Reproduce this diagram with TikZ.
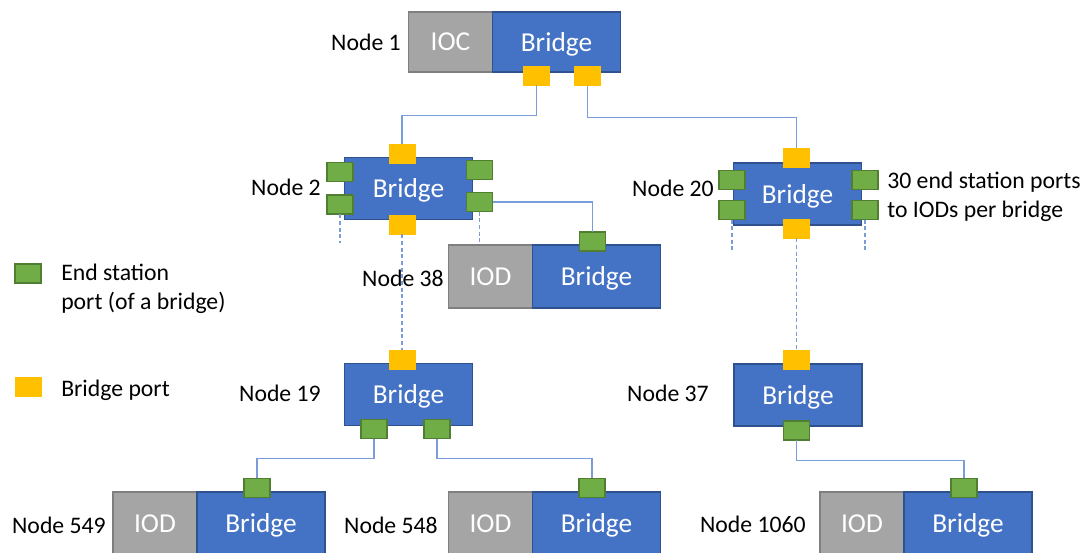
\documentclass[tikz,border=0pt]{standalone}
\usepackage{fontspec}
\setmainfont{Carlito}
\usetikzlibrary{positioning,calc}
\definecolor{brfill}{HTML}{4472C4}
\definecolor{brline}{HTML}{2F528F}
\definecolor{iodfill}{HTML}{A5A5A5}
\definecolor{iodline}{HTML}{7F7F7F}
\definecolor{epfill}{HTML}{70AD47}
\definecolor{epline}{HTML}{507E32}
\definecolor{bpfill}{HTML}{FFC000}
\definecolor{wireblue}{HTML}{7A9CD8}

\begin{document}
\begin{tikzpicture}[x=0.75pt,y=-0.75pt,font=\fontsize{17.8}{22}\selectfont]
\tikzstyle{bridge}=[draw=brline,fill=brfill,line width=1pt,text=white,minimum width=96pt,minimum height=46.5pt,inner sep=0pt,outer sep=0pt,text depth=0pt,font=\fontsize{20.5}{24}\selectfont]
\tikzstyle{iod}=[bridge,draw=iodline,fill=iodfill,minimum width=63pt,minimum height=47.25pt]
\tikzstyle{eport}=[draw=epline,fill=epfill,line width=1.2pt,minimum width=19.5pt,minimum height=14.5pt,inner sep=0pt,outer sep=0pt]
\tikzstyle{bport}=[eport,draw=bpfill,fill=bpfill,line width=0.5pt]
\tikzstyle{lbl}=[inner sep=0pt,anchor=east]
\tikzstyle{wire}=[draw=wireblue,line width=0.8pt]
\tikzstyle{stub}=[wire,dash pattern=on 3pt off 2pt]
\useasboundingbox (0,0) rectangle (1092,553);
% top: IOC with its bridge
\node[iod,minimum height=45pt] (ioc1) at (450.5,42) {IOC};
\node[bridge,minimum height=45pt,anchor=west] (br1) at (ioc1.east) {Bridge};
\node[bport] (bp1a) at (536.5,75.5) {};
\node[bport] (bp1b) at (587.5,76) {};
% plain bridges
\node[bridge] (br2) at (408.5,188.5) {Bridge};
\node[bridge] (br20) at (797.5,194) {Bridge};
\node[bridge] (br19) at (408.5,394.5) {Bridge};
\node[bridge] (br37) at (798,395) {Bridge};
% IOD + bridge pairs
\foreach \n/\x/\y in {38/490.5/276.5,549/155/523.5,548/490.5/523.5,1060/862/523.5} {
  \node[iod] (iod\n) at (\x,\y) {IOD};
  \node[bridge,minimum height=47.25pt,anchor=west] (br\n) at (iod\n.east) {Bridge};
}
% ports
\foreach \p/\x/\y in {2t/402/154,2b/402/224.5,20t/796.5/157.5,20b/796.5/228.5,19/402/359.5,37/796.5/359.5} \node[bport] (bp\p) at (\x,\y) {};
\foreach \p/\x/\y in {2a/340/172,2b/340/204.5,2c/479.5/170,2d/479.5/202,20a/732/180,20b/732/210,20c/865/180,20d/865/210,38/592.5/241.5,19a/374/429,19b/437/429,549/257/488,548/592/488,37/796.5/430.5,1060/964/488} \node[eport] (ep\p) at (\x,\y) {};
% labels
\foreach \n/\x/\y in {1/401/42,2/321/187,38/444/278,20/714/188,19/321/393,37/709/393,549/106/525,548/438/525,1060/806/524} \node[lbl] (lbl\n) at (\x,\y) {Node \n};
\node[align=left,anchor=west,inner sep=0pt] (note20) at (887,197) {30 end station ports\\to IODs per bridge};
% legend
\node[eport] (lgep) at (28,273.5) {};
\node[align=left,anchor=west,inner sep=0pt] (lgeptxt) at (61,289) {End station\\port (of a bridge)};
\node[bport] (lgbp) at (28,386.5) {};
\node[anchor=west,inner sep=0pt] (lgbptxt) at (61,390) {Bridge port};
% links
\draw[wire] (bp1a.south) -- ++(0,30) -| (bp2t.north);
\draw[wire] (bp1b.south) -- ++(0,31.5) -| (bp20t.north);
\draw[wire] (ep2d.east) -| (ep38.north);
\draw[wire] (ep19a.south) -- ++(0,19.5) -| (ep549.north);
\draw[wire] (ep19b.south) -- ++(0,19.5) -| (ep548.north);
\draw[wire] (ep37.south) -- ++(0,20) -| (ep1060.north);
\draw[stub] (bp2b.south) -- (bp19.north);
\draw[stub] (bp20b.south) -- (bp37.north);
\draw[stub] (ep2b.south) -- ++(0,29) coordinate (s2b);
\draw[stub] (ep2d.south) -- ++(0,31) coordinate (s2d);
\draw[stub] (ep20b.south) -- ++(0,30) coordinate (s20b);
\draw[stub] (ep20d.south) -- ++(0,30) coordinate (s20d);
\end{tikzpicture}
\end{document}
